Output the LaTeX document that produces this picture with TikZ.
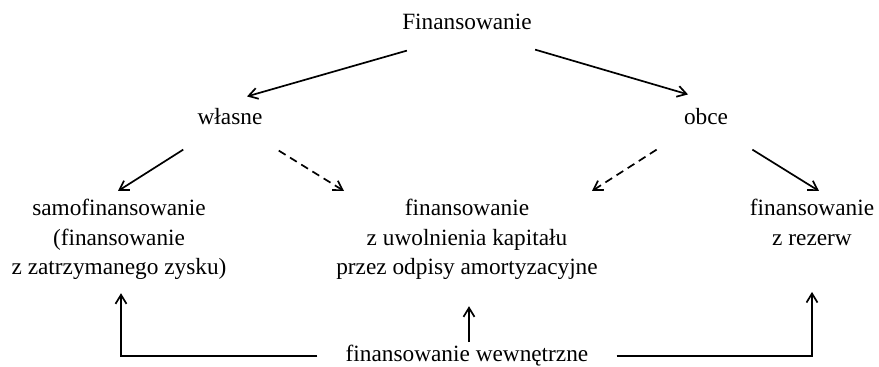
\documentclass[tikz,border=0pt]{standalone}
\usepackage{fontspec}
\setmainfont{Liberation Serif}
\usetikzlibrary{arrows.meta}

\begin{document}
\begin{tikzpicture}[
        x=0.5pt, y=-0.5pt,
        font=\fontsize{11.65pt}{14.75pt}\selectfont,
        label/.style={inner sep=0pt, anchor=base},
        block/.style={inner sep=0pt, anchor=north, align=center},
        arrowstyle/.style={-{Straight Barb[length=4.5pt,width=5.5pt]}, line width=0.85pt},
        dashstyle/.style={arrowstyle, dash pattern=on 4pt off 2.6pt}
    ]
        \useasboundingbox (0,0) rectangle (879,367);

        \node[label] (fin) at (467,30) {Finansowanie};
        \node[label] (wlasne) at (230,125) {własne};
        \node[label] (obce) at (706,125) {obce};
        \node[block] (samo) at (119,199) {samofinansowanie\\(finansowanie\\z zatrzymanego zysku)};
        \node[block] (amort) at (467,199) {finansowanie\\z uwolnienia kapitału\\przez odpisy amortyzacyjne};
        \node[block] (rezerwy) at (812,199) {finansowanie\\z rezerw};
        \node[label, inner xsep=14pt] (wewn) at (467,362) {finansowanie wewnętrzne};

        % od gory
        \draw[arrowstyle] ([shift={(5,20)}]fin.south west) -- ([shift={(17,-12)}]wlasne.north);
        \draw[arrowstyle] ([shift={(3,19)}]fin.south east) -- ([shift={(-18,-14)}]obce.north);
        \draw[arrowstyle] ([shift={(-14,24)}]wlasne.south west) -- ([shift={(-1,-8)}]samo.north);
        \draw[dashstyle] ([shift={(16,25)}]wlasne.south east) -- ([shift={(-123,-8)}]amort.north);
        \draw[dashstyle] ([shift={(-27,24)}]obce.south west) -- ([shift={(125,-8)}]amort.north);
        \draw[arrowstyle] ([shift={(24,24)}]obce.south east) -- ([shift={(7,-8)}]rezerwy.north);

        % od dolu
        \draw[arrowstyle] (wewn.west) -| ([shift={(2,13)}]samo.south);
        \draw[arrowstyle] ([shift={(2,-3)}]wewn.north) -- ([shift={(2,26)}]amort.south);
        \draw[arrowstyle] (wewn.east) -| ([shift={(0,46)}]rezerwy.south);
    \end{tikzpicture}
\end{document}
